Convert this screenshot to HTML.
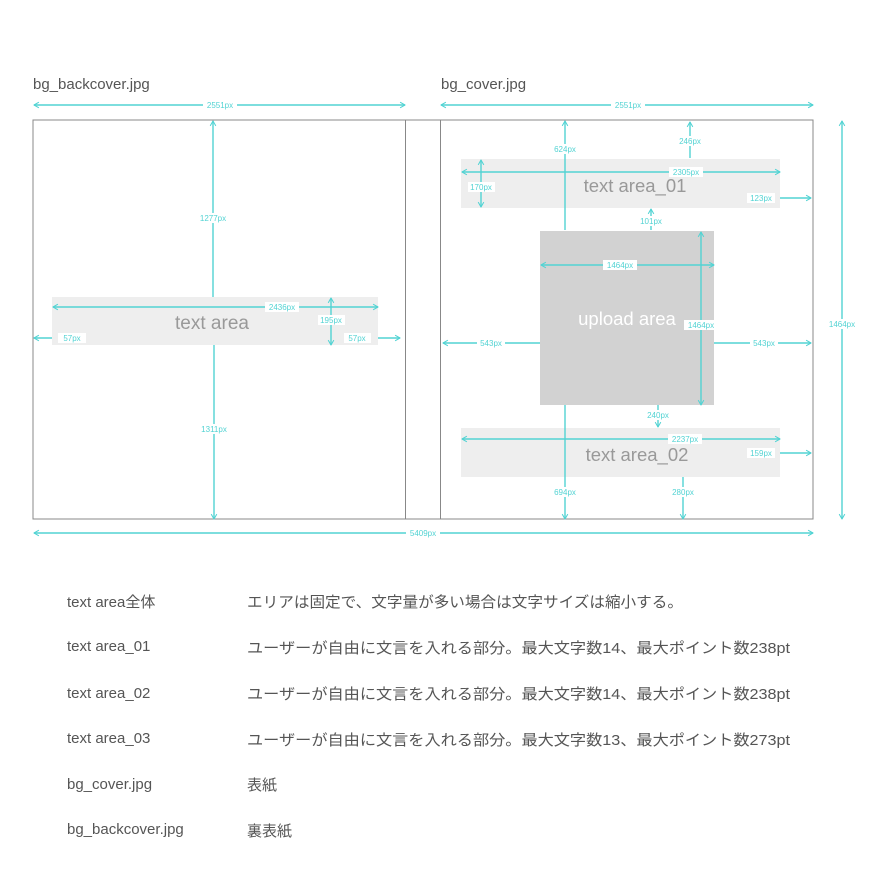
<!DOCTYPE html>
<html><head><meta charset="utf-8"><style>
html,body{margin:0;padding:0;background:#fff;}
svg{display:block;}
.c{stroke:#52d3d3;stroke-width:1.4;fill:none;}
.l{font-family:"Liberation Sans",sans-serif;font-size:8px;fill:#52d3d3;text-anchor:middle;}
.b{fill:#fff;}
.t{font-family:"Liberation Sans","Noto Sans CJK JP",sans-serif;font-size:15px;fill:#555;}
</style></head><body>
<svg width="871" height="883" viewBox="0 0 871 883" xmlns="http://www.w3.org/2000/svg">
<defs>
<marker id="a" viewBox="0 0 10 10" refX="9" refY="5" markerWidth="7" markerHeight="7" orient="auto-start-reverse" markerUnits="userSpaceOnUse">
<path d="M2,1 L9,5 L2,9" fill="none" stroke="#52d3d3" stroke-width="1.5"/>
</marker>
</defs>
<text class="t" x="33" y="89">bg_backcover.jpg</text>
<text class="t" x="441" y="89">bg_cover.jpg</text>

<rect x="33" y="120" width="780" height="399" fill="none" stroke="#888" stroke-width="1"/>
<line x1="405.5" y1="120" x2="405.5" y2="519" stroke="#888"/>
<line x1="440.5" y1="120" x2="440.5" y2="519" stroke="#888"/>

<rect x="52" y="297" width="326" height="48" fill="#eeeeee"/>
<rect x="461" y="159" width="319" height="49" fill="#eeeeee"/>
<rect x="461" y="428" width="319" height="49" fill="#eeeeee"/>
<rect x="540" y="231" width="174" height="174" fill="#d2d2d2"/>
<text x="212" y="329" font-family="Liberation Sans,sans-serif" font-size="19" fill="#999" text-anchor="middle">text area</text>
<text x="635" y="192" font-family="Liberation Sans,sans-serif" font-size="18.5" fill="#999" text-anchor="middle">text area_01</text>
<text x="637" y="461" font-family="Liberation Sans,sans-serif" font-size="18.5" fill="#999" text-anchor="middle">text area_02</text>
<text x="627" y="325" font-family="Liberation Sans,sans-serif" font-size="18.5" fill="#fff" text-anchor="middle">upload area</text>

<line class="c" x1="34" y1="105" x2="405" y2="105" marker-start="url(#a)" marker-end="url(#a)"/>
<rect class="b" x="203" y="100" width="34" height="10"/><text class="l" x="220" y="108">2551px</text>
<line class="c" x1="441" y1="105" x2="813" y2="105" marker-start="url(#a)" marker-end="url(#a)"/>
<rect class="b" x="611" y="100" width="34" height="10"/><text class="l" x="628" y="108">2551px</text>
<line class="c" x1="34" y1="533" x2="813" y2="533" marker-start="url(#a)" marker-end="url(#a)"/>
<rect class="b" x="406" y="528" width="34" height="10"/><text class="l" x="423" y="536">5409px</text>
<line class="c" x1="842" y1="121" x2="842" y2="519" marker-start="url(#a)" marker-end="url(#a)"/>
<rect class="b" x="825" y="319" width="34" height="10"/><text class="l" x="842" y="327">1464px</text>

<line class="c" x1="213" y1="121" x2="213" y2="297" marker-start="url(#a)"/>
<rect class="b" x="197" y="213" width="32" height="10"/><text class="l" x="213" y="221">1277px</text>
<line class="c" x1="214" y1="345" x2="214" y2="519" marker-end="url(#a)"/>
<rect class="b" x="198" y="424" width="32" height="10"/><text class="l" x="214" y="432">1311px</text>
<line class="c" x1="53" y1="307" x2="378" y2="307" marker-start="url(#a)" marker-end="url(#a)"/>
<rect class="b" x="265" y="302" width="34" height="10"/><text class="l" x="282" y="310">2436px</text>
<line class="c" x1="331" y1="298" x2="331" y2="345" marker-start="url(#a)" marker-end="url(#a)"/>
<rect class="b" x="318" y="315" width="27" height="10"/><text class="l" x="331" y="323">195px</text>
<line class="c" x1="52" y1="338" x2="34" y2="338" marker-end="url(#a)"/>
<rect class="b" x="58" y="333" width="28" height="10"/><text class="l" x="72" y="341">57px</text>
<line class="c" x1="378" y1="338" x2="400" y2="338" marker-end="url(#a)"/>
<rect class="b" x="344" y="333" width="27" height="10"/><text class="l" x="357" y="341">57px</text>

<line class="c" x1="565" y1="121" x2="565" y2="230" marker-start="url(#a)"/>
<rect class="b" x="551" y="144" width="28" height="10"/><text class="l" x="565" y="152">624px</text>
<line class="c" x1="690" y1="122" x2="690" y2="158" marker-start="url(#a)"/>
<rect class="b" x="676" y="136" width="28" height="10"/><text class="l" x="690" y="144">246px</text>
<line class="c" x1="462" y1="172" x2="780" y2="172" marker-start="url(#a)" marker-end="url(#a)"/>
<rect class="b" x="669" y="167" width="34" height="10"/><text class="l" x="686" y="175">2305px</text>
<line class="c" x1="481" y1="160" x2="481" y2="207" marker-start="url(#a)" marker-end="url(#a)"/>
<rect class="b" x="468" y="182" width="27" height="10"/><text class="l" x="481" y="190">170px</text>
<line class="c" x1="780" y1="198" x2="811" y2="198" marker-end="url(#a)"/>
<rect class="b" x="747" y="193" width="28" height="10"/><text class="l" x="761" y="201">123px</text>
<line class="c" x1="651" y1="230" x2="651" y2="209" marker-end="url(#a)"/>
<rect class="b" x="638" y="216" width="26" height="10"/><text class="l" x="651" y="224">101px</text>
<line class="c" x1="541" y1="265" x2="714" y2="265" marker-start="url(#a)" marker-end="url(#a)"/>
<rect class="b" x="603" y="260" width="34" height="10"/><text class="l" x="620" y="268">1464px</text>
<line class="c" x1="701" y1="232" x2="701" y2="405" marker-start="url(#a)" marker-end="url(#a)"/>
<rect class="b" x="684" y="320" width="34" height="10"/><text class="l" x="701" y="328">1464px</text>
<line class="c" x1="540" y1="343" x2="443" y2="343" marker-end="url(#a)"/>
<rect class="b" x="477" y="338" width="28" height="10"/><text class="l" x="491" y="346">543px</text>
<line class="c" x1="714" y1="343" x2="811" y2="343" marker-end="url(#a)"/>
<rect class="b" x="750" y="338" width="28" height="10"/><text class="l" x="764" y="346">543px</text>
<line class="c" x1="658" y1="405" x2="658" y2="427" marker-end="url(#a)"/>
<rect class="b" x="645" y="410" width="26" height="10"/><text class="l" x="658" y="418">240px</text>
<line class="c" x1="462" y1="439" x2="780" y2="439" marker-start="url(#a)" marker-end="url(#a)"/>
<rect class="b" x="668" y="434" width="34" height="10"/><text class="l" x="685" y="442">2237px</text>
<line class="c" x1="780" y1="453" x2="811" y2="453" marker-end="url(#a)"/>
<rect class="b" x="747" y="448" width="28" height="10"/><text class="l" x="761" y="456">159px</text>
<line class="c" x1="565" y1="405" x2="565" y2="519" marker-end="url(#a)"/>
<rect class="b" x="551" y="487" width="28" height="10"/><text class="l" x="565" y="495">694px</text>
<line class="c" x1="683" y1="477" x2="683" y2="519" marker-end="url(#a)"/>
<rect class="b" x="669" y="487" width="28" height="10"/><text class="l" x="683" y="495">280px</text>

<text class="t" x="67" y="607">text area全体</text>
<text class="t" x="247" y="607" textLength="436" lengthAdjust="spacingAndGlyphs">エリアは固定で、文字量が多い場合は文字サイズは縮小する。</text>
<text class="t" x="67" y="651">text area_01</text>
<text class="t" x="247" y="653" textLength="543" lengthAdjust="spacingAndGlyphs">ユーザーが自由に文言を入れる部分。最大文字数14、最大ポイント数238pt</text>
<text class="t" x="67" y="698">text area_02</text>
<text class="t" x="247" y="699" textLength="543" lengthAdjust="spacingAndGlyphs">ユーザーが自由に文言を入れる部分。最大文字数14、最大ポイント数238pt</text>
<text class="t" x="67" y="743">text area_03</text>
<text class="t" x="247" y="745" textLength="543" lengthAdjust="spacingAndGlyphs">ユーザーが自由に文言を入れる部分。最大文字数13、最大ポイント数273pt</text>
<text class="t" x="67" y="789">bg_cover.jpg</text>
<text class="t" x="247" y="790">表紙</text>
<text class="t" x="67" y="834">bg_backcover.jpg</text>
<text class="t" x="247" y="836">裏表紙</text>
</svg>
</body></html>
